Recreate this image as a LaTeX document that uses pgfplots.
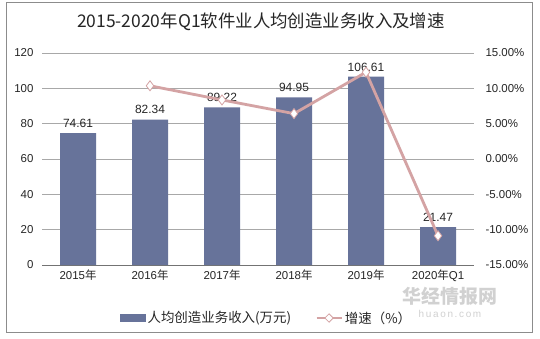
\documentclass[border=0pt]{standalone}
\usepackage{fontspec}
\setmainfont{Liberation Sans}
\newfontfamily\cjk{Noto Sans CJK SC}
\usepackage{pgfplots}
\pgfplotsset{compat=1.18}
\usetikzlibrary{shapes.geometric}
\definecolor{barc}{HTML}{67739A}
\definecolor{linec}{HTML}{D4A3A4}
\definecolor{gridc}{HTML}{A8A8A8}
\definecolor{txt}{HTML}{262626}
\begin{document}
\begin{tikzpicture}[x=1bp,y=1bp]
\fill[white] (0,0) rectangle (540,338);
\draw[black!45, line width=0.8bp] (6,6) rectangle (532,336);
\node[font=\cjk\fontsize{17.5}{20}\selectfont, text=txt] at (261,316) {2015-2020年Q1软件业人均创造业务收入及增速};
\node[font=\cjk\bfseries\fontsize{19}{20}\selectfont, text=black!18] at (450,42) {华经情报网};
\node[font=\fontsize{10}{12}\selectfont, text=black!18] at (450,24) {h\,u\,a\,o\,n\,.\,c\,o\,m};
\begin{axis}[at={(42bp,73bp)}, anchor=south west, scale only axis,
  width=432bp, height=212bp,
  xmin=-0.5, xmax=5.5, ymin=0, ymax=120,
  ytick={0,20,...,120},
  axis x line*=bottom, axis y line*=left,
  y axis line style={draw=none},
  ytick style={draw=none},
  x axis line style={draw=black!55},
  xtick={0,...,5},
  xticklabels={2015{\cjk 年},2016{\cjk 年},2017{\cjk 年},2018{\cjk 年},2019{\cjk 年},2020{\cjk 年}Q1},
  xtick style={draw=none},
  extra x ticks={-0.5,0.5,1.5,2.5,3.5,4.5,5.5},
  extra x tick labels={},
  extra x tick style={tick style={draw=black!55}, major tick length=4bp, tick align=outside},
  ymajorgrids, grid style={gridc, line width=0.6bp},
  tick label style={font=\fontsize{11.5}{13}\selectfont, text=txt},
  /pgf/number format/assume math mode=true,
  yticklabel style={xshift=-5bp},
  xticklabel style={yshift=-1bp},
  nodes near coords,
  nodes near coords style={font=\fontsize{12}{13}\selectfont, text=txt, yshift=2bp},
  point meta=explicit symbolic,
  ]
\addplot[ybar, bar width=36bp, fill=barc, draw=none] coordinates {
 (0,74.61) [74.61] (1,82.34) [82.34] (2,89.22) [89.22] (3,94.95) [94.95] (4,106.61) [106.61] (5,21.47) [21.47]};
\end{axis}
\begin{axis}[at={(42bp,73bp)}, anchor=south west, scale only axis,
  width=432bp, height=212bp,
  xmin=-0.5, xmax=5.5, ymin=-15, ymax=15,
  ytick={-15,-10,...,15},
  axis y line*=right, axis x line=none,
  y axis line style={draw=none},
  ytick style={draw=none},
  tick label style={font=\fontsize{11.5}{13}\selectfont, text=txt},
  /pgf/number format/assume math mode=true,
  yticklabel={\pgfmathprintnumber[fixed,fixed zerofill,precision=2]{\tick}\%},
  yticklabel style={xshift=8bp},
  legend columns=2,
  legend style={at={(0.52,-0.25)}, anchor=center, draw=none, fill=none,
    font=\cjk\fontsize{13.5}{15}\selectfont, text=txt,
    /tikz/every even column/.append style={column sep=22bp}},
  ]
\addlegendimage{legend image code/.code={\fill[barc] (0bp,-3.5bp) rectangle (25bp,3.5bp);}}
\addlegendentry{人均创造业务收入(万元)}
\addplot[linec, line width=2.8bp, mark=diamond*, mark size=5bp,
  mark options={fill=white, draw=linec, line width=0.8bp},
  legend image code/.code={\draw[linec, line width=2.8bp] (0bp,0bp) -- (25bp,0bp);
    \node[diamond, draw=linec, fill=white, line width=0.8bp, inner sep=1.8bp] at (12.5bp,0bp) {};}]
 coordinates {(1,10.36) (2,8.36) (3,6.42) (4,12.28) (5,-10.86)};
\addlegendentry{增速（\%）}
\end{axis}
\end{tikzpicture}
\end{document}
